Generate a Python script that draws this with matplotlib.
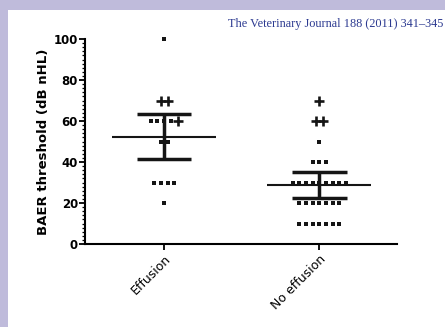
import matplotlib
matplotlib.use("Agg")
import matplotlib.pyplot as plt
import numpy as np
from matplotlib.patches import Rectangle
from matplotlib.ticker import MultipleLocator

# values
categories = ["Effusion", "No effusion"]
effusion_dots = [100, 60, 60, 60, 60, 50, 50, 30, 30, 30, 30, 20]
effusion_crosses = [70, 70, 60]
no_effusion_dots = [50, 40, 40, 40,
                    30, 30, 30, 30, 30, 30, 30, 30, 30,
                    20, 20, 20, 20, 20, 20, 20,
                    10, 10, 10, 10, 10, 10, 10]
no_effusion_crosses = [70, 60, 60]
means = [52, 29]
ci_low = [41.3, 22.3]
ci_high = [63.3, 35.3]

header = "The Veterinary Journal 188 (2011) 341\u2013345"


def row_layout(dots, crosses, step=0.043):
    """spread points of equal value into a centered row, crosses on the sides"""
    xs_d, ys_d, xs_c, ys_c = [], [], [], []
    for val in sorted(set(dots) | set(crosses)):
        nd = dots.count(val)
        nc = crosses.count(val)
        left = nc // 2
        kinds = ["c"] * left + ["d"] * nd + ["c"] * (nc - left)
        offs = (np.arange(len(kinds)) - (len(kinds) - 1) / 2) * step
        for k, o in zip(kinds, offs):
            if k == "d":
                xs_d.append(o)
                ys_d.append(val)
            else:
                xs_c.append(o)
                ys_c.append(val)
    return xs_d, ys_d, xs_c, ys_c


fig = plt.figure(figsize=(4.45, 3.27), dpi=100)
fig.patch.set_facecolor("#bfbbdb")
fig.patches.append(Rectangle((8 / 445, 0), 1, 1 - 10 / 327,
                             transform=fig.transFigure, facecolor="white",
                             edgecolor="none", zorder=-5))

ax = fig.add_axes([85 / 445, 1 - 244 / 327, 312 / 445, (244 - 39) / 327])
ax.set_facecolor("none")
ax.set_zorder(2)

groups = [(effusion_dots, effusion_crosses), (no_effusion_dots, no_effusion_crosses)]
for i, (dots, crosses) in enumerate(groups):
    xd, yd, xc, yc = row_layout(dots, crosses)
    ax.scatter(np.array(xd) + i, yd, marker="s", s=6, color="#151515",
               linewidths=0, zorder=3, clip_on=False)
    ax.scatter(np.array(xc) + i, yc, marker="+", s=45, color="#151515",
               linewidths=1.9, zorder=3, clip_on=False)
    ax.hlines(means[i], i - 0.335, i + 0.335, color="#151515", lw=1.5, zorder=2)
    ax.vlines(i, ci_low[i], ci_high[i], color="#151515", lw=2.5, zorder=2)
    ax.hlines([ci_low[i], ci_high[i]], i - 0.175, i + 0.175,
              color="#151515", lw=2.5, zorder=2)

ax.set_xlim(-0.51, 1.50)
ax.set_ylim(0, 100)
ax.set_xticks([0, 1])
ax.set_xticklabels(categories, rotation=45, ha="right", rotation_mode="anchor",
                   fontsize=9, family="DejaVu Sans")
ax.set_yticks([0, 20, 40, 60, 80, 100])
ax.yaxis.set_minor_locator(MultipleLocator(2))
ax.tick_params(axis="y", which="major", length=4, width=1.3, labelsize=8.5, pad=1)
ax.tick_params(axis="y", which="minor", length=2.5, width=0.9)
ax.tick_params(axis="x", which="major", length=4, width=1.3, pad=2)
for lbl in ax.get_yticklabels():
    lbl.set_fontweight("bold")
ax.set_ylabel("BAER threshold (dB nHL)", fontsize=9.5, fontweight="bold", labelpad=3)

for side in ["top", "right"]:
    ax.spines[side].set_visible(False)
ax.spines["left"].set_linewidth(1.5)
ax.spines["bottom"].set_linewidth(1.5)

fig.text(443 / 445, 1 - 24 / 327, header, ha="right", va="center",
         fontsize=8.8, family="Liberation Serif", color="#2b3990")

fig.savefig("out.png", dpi=100)
